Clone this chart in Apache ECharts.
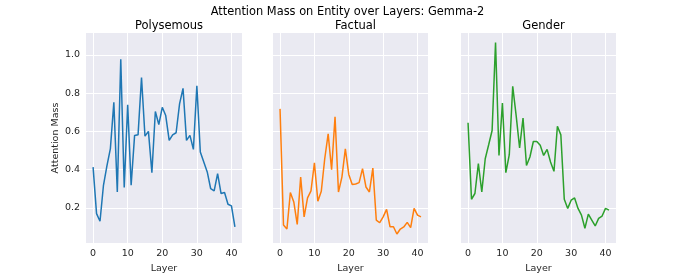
<!DOCTYPE html>
<html><head><meta charset="utf-8">
<script src="https://cdn.jsdelivr.net/npm/echarts@6/dist/echarts.min.js"></script>
<style>html,body{margin:0;padding:0;background:#fff}#c{width:685px;height:274px}</style>
</head><body><div id="c"></div>
<script>
const layers = Array.from({length: 42}, (_, i) => i);
const polysemous = [0.413,0.17,0.13,0.318,0.42,0.51,0.752,0.283,0.978,0.306,0.739,0.318,0.579,0.582,0.882,0.575,0.6,0.384,0.704,0.636,0.726,0.683,0.553,0.582,0.593,0.744,0.825,0.553,0.579,0.506,0.839,0.492,0.44,0.388,0.30,0.289,0.379,0.275,0.28,0.219,0.21,0.10];
const factual = [0.718,0.11,0.089,0.28,0.231,0.113,0.361,0.153,0.252,0.289,0.436,0.235,0.287,0.457,0.587,0.40,0.676,0.283,0.361,0.509,0.375,0.322,0.325,0.332,0.405,0.309,0.283,0.408,0.136,0.122,0.153,0.192,0.101,0.101,0.063,0.089,0.10,0.124,0.096,0.197,0.162,0.153];
const gender = [0.645,0.245,0.275,0.431,0.283,0.457,0.53,0.605,1.065,0.474,0.749,0.384,0.478,0.836,0.683,0.514,0.67,0.422,0.466,0.547,0.547,0.527,0.474,0.506,0.44,0.391,0.627,0.582,0.245,0.197,0.24,0.252,0.197,0.162,0.093,0.167,0.136,0.105,0.145,0.157,0.197,0.188];
const panelTitles = ['Polysemous', 'Factual', 'Gender'];
const colors = ['#1f77b4', '#ff7f0e', '#2ca02c'];
const xTicks = [0, 10, 20, 30, 40];
const yTicks = [0.2, 0.4, 0.6, 0.8, 1.0];

const seriesData = [polysemous, factual, gender];
const grids = [
  {left: 86, top: 33, width: 156, height: 210},
  {left: 273, top: 33, width: 155, height: 210},
  {left: 461, top: 33, width: 155, height: 210}
];
const font = 'DejaVu Sans';
const chart = echarts.init(document.getElementById('c'), null, {renderer: 'canvas'});
const option = {
  backgroundColor: '#ffffff',
  animation: false,
  textStyle: {fontFamily: font},
  title: [
    {text: 'Attention Mass on Entity over Layers: Gemma-2', left: 342.5, top: 1.5, textAlign: 'center',
     textStyle: {fontFamily: font, fontSize: 11.4, fontWeight: 'normal', color: '#000'}},
  ].concat(panelTitles.map((t, i) => ({
    text: t, left: grids[i].left + grids[i].width / 2, top: 15, textAlign: 'center',
    textStyle: {fontFamily: font, fontSize: 11.5, fontWeight: 'normal', color: '#000'}
  }))),
  grid: grids.map(g => Object.assign({backgroundColor: '#eaeaf2', show: true, borderWidth: 0,
    containLabel: false, outerBoundsMode: 'none'}, g)),
  xAxis: grids.map((g, i) => ({
    type: 'value', gridIndex: i, min: -2.05, max: 43.05,
    name: 'Layer', nameLocation: 'middle', nameGap: 18.5,
    nameTextStyle: {fontFamily: font, fontSize: 9.5, color: '#262626'},
    axisLine: {show: false},
    axisTick: {show: false, customValues: xTicks},
    axisLabel: {customValues: xTicks, fontFamily: font, fontSize: 9.5, color: '#262626', margin: 6},
    splitLine: {show: true, lineStyle: {color: '#ffffff', width: 1}}
  })),
  yAxis: grids.map((g, i) => ({
    type: 'value', gridIndex: i, min: 0.016, max: 1.115,
    name: i === 0 ? 'Attention Mass' : '', nameLocation: 'middle', nameGap: 25.5,
    nameTextStyle: {fontFamily: font, fontSize: 9.5, color: '#262626'},
    axisLine: {show: false},
    axisTick: {show: false, customValues: yTicks},
    axisLabel: {show: i === 0, customValues: yTicks, fontFamily: font, fontSize: 9.5, color: '#262626', margin: 6,
      formatter: v => v.toFixed(1)},
    splitLine: {show: true, lineStyle: {color: '#ffffff', width: 1}}
  })),
  series: seriesData.map((d, i) => ({
    type: 'line', xAxisIndex: i, yAxisIndex: i,
    data: layers.map((x, j) => [x, d[j]]),
    showSymbol: false, symbol: 'none',
    lineStyle: {color: colors[i], width: 1.5},
    itemStyle: {color: colors[i]}
  }))
};
chart.setOption(option);
</script></body></html>
